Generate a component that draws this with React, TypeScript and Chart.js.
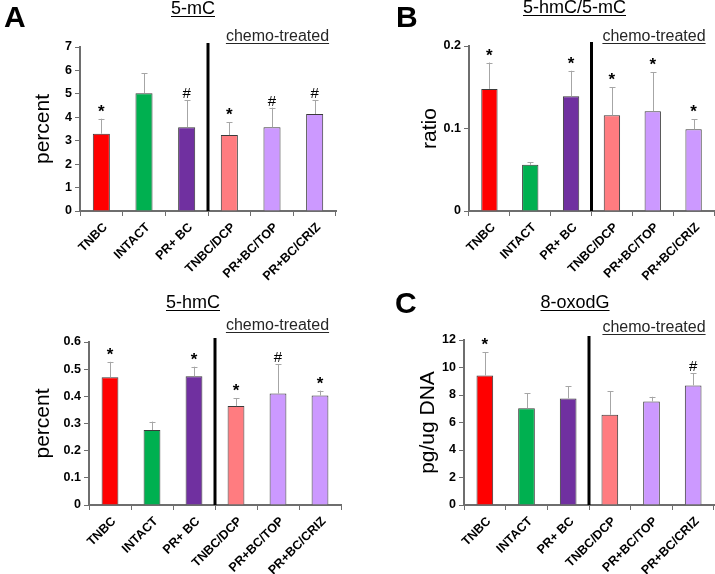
import React, { useEffect, useRef } from "react";
import { Chart, registerables } from "chart.js";
Chart.register(...registerables);

const categories = ["TNBC", "INTACT", "PR+ BC", "TNBC/DCP", "PR+BC/TOP", "PR+BC/CRIZ"];
const barColors = ["#ff0000", "#00b050", "#7030a0", "#ff7c80", "#cc99ff", "#cc99ff"];

const mC_values = [3.3, 5.03, 3.58, 3.24, 3.57, 4.14];
const mC_errTops = [3.94, 5.89, 4.74, 3.78, 4.41, 4.74];
const mC_marks = ["*", "", "#", "*", "#", "#"];

const ratio_values = [0.148, 0.056, 0.139, 0.116, 0.121, 0.099];
const ratio_errTops = [0.18, 0.059, 0.17, 0.15, 0.168, 0.111];
const ratio_marks = ["*", "", "*", "*", "*", "*"];

const hmC_values = [0.47, 0.276, 0.474, 0.364, 0.41, 0.403];
const hmC_errTops = [0.527, 0.307, 0.509, 0.393, 0.519, 0.421];
const hmC_marks = ["*", "", "*", "*", "#", "*"];

const oxo_values = [9.42, 7.04, 7.75, 6.56, 7.53, 8.7];
const oxo_errTops = [11.12, 8.11, 8.65, 8.28, 7.87, 9.57];
const oxo_marks = ["*", "", "", "", "", "#"];

const FONT = "Arial, 'Liberation Sans', sans-serif";
const AXIS_COLOR = "#6e6e6e";

type PanelProps = {
  left: number; top: number; width: number; height: number;
  area: { left: number; top: number; right: number; bottom: number };
  values: number[]; errTops: number[]; marks: string[];
  yMin: number; yMax: number; yStep: number;
  letter: string; letterPos: [number, number];
  title: string; titlePos: [number, number]; titleUnderline: number;
  chemo: string; chemoPos: [number, number]; chemoUnderline: number;
  yTitle: string; yTitleX: number;
};

function Panel(p: PanelProps) {
  const ref = useRef<HTMLCanvasElement>(null);
  useEffect(() => {
    const canvas = ref.current!;
    const overlay = {
      id: "overlay",
      afterDatasetsDraw(chart: any) {
        const ctx = chart.ctx;
        const meta = chart.getDatasetMeta(0);
        const ys = chart.scales.y;
        const xs = chart.scales.x;
        ctx.save();
        meta.data.forEach((bar: any, i: number) => {
          const y0 = ys.getPixelForValue(p.values[i]);
          const y1 = ys.getPixelForValue(p.errTops[i]);
          ctx.strokeStyle = "#a6a6a6";
          ctx.lineWidth = 1;
          ctx.beginPath();
          ctx.moveTo(Math.round(bar.x) + 0.5, y0);
          ctx.lineTo(Math.round(bar.x) + 0.5, y1);
          ctx.moveTo(Math.round(bar.x) - 2.5, Math.round(y1) + 0.5);
          ctx.lineTo(Math.round(bar.x) + 3.5, Math.round(y1) + 0.5);
          ctx.stroke();
          const m = p.marks[i];
          if (m) {
            ctx.fillStyle = "#000";
            ctx.textAlign = "center";
            ctx.textBaseline = "alphabetic";
            ctx.font = m === "*" ? `bold 17px ${FONT}` : `15px ${FONT}`;
            ctx.fillText(m, bar.x, y1 - 2);
          }
        });
        const dx = xs.getPixelForValue(2.5);
        ctx.strokeStyle = "#000";
        ctx.lineWidth = 3;
        ctx.beginPath();
        ctx.moveTo(dx, chart.chartArea.top - 4);
        ctx.lineTo(dx, chart.chartArea.bottom);
        ctx.stroke();
        ctx.restore();
      },
      afterDraw(chart: any) {
        const ctx = chart.ctx;
        const ca = chart.chartArea;
        ctx.save();
        ctx.fillStyle = "#000";
        ctx.strokeStyle = "#000";
        ctx.textBaseline = "alphabetic";
        if (p.letter) {
          ctx.font = `bold 30px ${FONT}`;
          ctx.textAlign = "left";
          ctx.fillText(p.letter, p.letterPos[0], p.letterPos[1]);
        }
        ctx.font = `18px ${FONT}`;
        ctx.textAlign = "center";
        ctx.fillText(p.title, p.titlePos[0], p.titlePos[1]);
        let w = ctx.measureText(p.title).width;
        ctx.lineWidth = 1;
        ctx.beginPath();
        ctx.moveTo(p.titlePos[0] - w / 2, p.titleUnderline + 0.5);
        ctx.lineTo(p.titlePos[0] + w / 2, p.titleUnderline + 0.5);
        ctx.stroke();
        ctx.fillStyle = "#262626";
        ctx.strokeStyle = "#262626";
        ctx.font = `16px ${FONT}`;
        ctx.fillText(p.chemo, p.chemoPos[0], p.chemoPos[1]);
        w = ctx.measureText(p.chemo).width;
        ctx.beginPath();
        ctx.moveTo(p.chemoPos[0] - w / 2, p.chemoUnderline + 0.5);
        ctx.lineTo(p.chemoPos[0] + w / 2, p.chemoUnderline + 0.5);
        ctx.stroke();
        ctx.fillStyle = "#000";
        ctx.font = `21px ${FONT}`;
        ctx.translate(p.yTitleX, (ca.top + ca.bottom) / 2);
        ctx.rotate(-Math.PI / 2);
        ctx.textBaseline = "middle";
        ctx.fillText(p.yTitle, 0, 0);
        ctx.restore();
      },
    };
    const tickFont = { family: FONT, size: 12.5, weight: "bold" as const };
    const chart = new Chart(canvas, {
      type: "bar",
      data: {
        labels: categories,
        datasets: [
          {
            data: p.values,
            backgroundColor: barColors,
            borderColor: "#3a3a3a",
            borderWidth: 1,
            categoryPercentage: 0.8,
            barPercentage: 0.5,
          },
        ],
      },
      options: {
        animation: false,
        responsive: false,
        layout: {
          padding: { left: 0, top: p.area.top, right: p.width - p.area.right, bottom: 0 },
        },
        plugins: { legend: { display: false }, tooltip: { enabled: false } },
        scales: {
          x: {
            grid: { drawOnChartArea: false, drawTicks: true, tickLength: 5, color: AXIS_COLOR, offset: true },
            border: { color: AXIS_COLOR, width: 2 },
            ticks: {
              font: tickFont, color: "#000", minRotation: 45, maxRotation: 45,
              autoSkip: false, padding: 4, labelOffset: 4,
            },
            afterFit: (s: any) => { s.height = p.height - p.area.bottom; },
          },
          y: {
            min: p.yMin,
            max: p.yMax,
            ticks: { stepSize: p.yStep, font: tickFont, color: "#000", padding: 3 },
            grid: { drawOnChartArea: false, drawTicks: true, tickLength: 5, color: AXIS_COLOR },
            border: { color: AXIS_COLOR, width: 2 },
            afterFit: (s: any) => { s.width = p.area.left; },
          },
        },
      },
      plugins: [overlay],
    });
    return () => chart.destroy();
  }, []);
  return (
    <canvas
      ref={ref}
      width={p.width}
      height={p.height}
      style={{ position: "absolute", left: p.left, top: p.top, width: p.width, height: p.height }}
    />
  );
}

export default function App() {
  useEffect(() => {
    document.body.style.margin = "0";
  }, []);
  return (
    <div style={{ position: "relative", width: 715, height: 574, background: "#fff", overflow: "hidden" }}>
      <Panel
        left={0} top={0} width={357} height={287}
        area={{ left: 80, top: 47, right: 336, bottom: 211 }}
        values={mC_values} errTops={mC_errTops} marks={mC_marks}
        yMin={0} yMax={7} yStep={1}
        letter="A" letterPos={[4, 27]}
        title="5-mC" titlePos={[193, 14]} titleUnderline={16}
        chemo="chemo-treated" chemoPos={[277.5, 41]} chemoUnderline={43}
        yTitle="percent" yTitleX={43}
      />
      <Panel
        left={357} top={0} width={358} height={287}
        area={{ left: 112, top: 46, right: 357, bottom: 211 }}
        values={ratio_values} errTops={ratio_errTops} marks={ratio_marks}
        yMin={0} yMax={0.2} yStep={0.1}
        letter="B" letterPos={[39, 27]}
        title="5-hmC/5-mC" titlePos={[217.5, 13]} titleUnderline={15}
        chemo="chemo-treated" chemoPos={[297, 41]} chemoUnderline={43}
        yTitle="ratio" yTitleX={73}
      />
      <Panel
        left={0} top={287} width={357} height={287}
        area={{ left: 89, top: 55, right: 341, bottom: 218 }}
        values={hmC_values} errTops={hmC_errTops} marks={hmC_marks}
        yMin={0} yMax={0.6} yStep={0.1}
        letter="" letterPos={[0, 0]}
        title="5-hmC" titlePos={[193, 21]} titleUnderline={23}
        chemo="chemo-treated" chemoPos={[277.5, 43]} chemoUnderline={45}
        yTitle="percent" yTitleX={43}
      />
      <Panel
        left={357} top={287} width={358} height={287}
        area={{ left: 107, top: 53, right: 357, bottom: 218 }}
        values={oxo_values} errTops={oxo_errTops} marks={oxo_marks}
        yMin={0} yMax={12} yStep={2}
        letter="C" letterPos={[38, 26]}
        title="8-oxodG" titlePos={[218, 21]} titleUnderline={23}
        chemo="chemo-treated" chemoPos={[297, 45]} chemoUnderline={47}
        yTitle="pg/ug DNA" yTitleX={71}
      />
    </div>
  );
}
